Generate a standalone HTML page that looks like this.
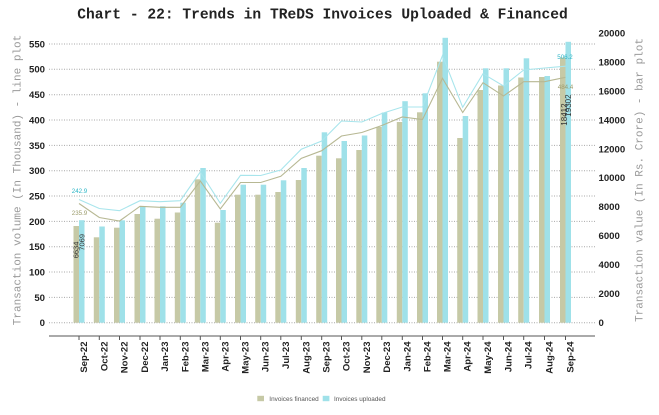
<!DOCTYPE html>
<html><head><meta charset="utf-8"><style>
html,body{margin:0;padding:0;background:#fff;}
svg{display:block;}
</style></head><body>
<svg width="659" height="415" viewBox="0 0 659 415" xmlns="http://www.w3.org/2000/svg">
<rect width="659" height="415" fill="#fff"/>
<text x="322.5" y="18.5" text-anchor="middle" font-family="Liberation Mono, monospace" font-weight="bold" font-size="14.6" fill="#222">Chart - 22: Trends in TReDS Invoices Uploaded &amp; Financed</text>

<g stroke="#a8a8a8" stroke-width="1" stroke-dasharray="1,1.5">
<line x1="49" y1="44" x2="595" y2="44"/>
<line x1="49" y1="69.3" x2="595" y2="69.3"/>
<line x1="49" y1="94.7" x2="595" y2="94.7"/>
<line x1="49" y1="120" x2="595" y2="120"/>
<line x1="49" y1="145.4" x2="595" y2="145.4"/>
<line x1="49" y1="170.7" x2="595" y2="170.7"/>
<line x1="49" y1="196" x2="595" y2="196"/>
<line x1="49" y1="221.4" x2="595" y2="221.4"/>
<line x1="49" y1="246.7" x2="595" y2="246.7"/>
<line x1="49" y1="272" x2="595" y2="272"/>
<line x1="49" y1="297.4" x2="595" y2="297.4"/>
<line x1="49" y1="322.7" x2="595" y2="322.7"/>
</g>

<g font-family="Liberation Sans, Arial, sans-serif" font-weight="bold" font-size="9.6" fill="#222" text-anchor="end">
<text x="45" y="47.4">550</text>
<text x="45" y="72.7">500</text>
<text x="45" y="98.1">450</text>
<text x="45" y="123.4">400</text>
<text x="45" y="148.8">350</text>
<text x="45" y="174.1">300</text>
<text x="45" y="199.4">250</text>
<text x="45" y="224.8">200</text>
<text x="45" y="250.1">150</text>
<text x="45" y="275.4">100</text>
<text x="45" y="300.8">50</text>
<text x="45" y="326.1">0</text>
</g>
<g font-family="Liberation Sans, Arial, sans-serif" font-weight="bold" font-size="9.6" fill="#222" text-anchor="start">
<text x="598.5" y="36.7">20000</text>
<text x="598.5" y="65.6">18000</text>
<text x="598.5" y="94.5">16000</text>
<text x="598.5" y="123.4">14000</text>
<text x="598.5" y="152.3">12000</text>
<text x="598.5" y="181.2">10000</text>
<text x="598.5" y="210.1">8000</text>
<text x="598.5" y="239">6000</text>
<text x="598.5" y="267.9">4000</text>
<text x="598.5" y="296.8">2000</text>
<text x="598.5" y="326.1">0</text>
</g>

<text transform="translate(20.5,180) rotate(-90)" text-anchor="middle" font-family="Liberation Mono, monospace" font-size="11" fill="#9a9a9a">Transaction volume (In Thousand) - line plot</text>
<text transform="translate(642.5,180) rotate(-90)" text-anchor="middle" font-family="Liberation Mono, monospace" font-size="11" fill="#9a9a9a">Transaction value (In Rs. Crore) - bar plot</text>

<!-- bars financed -->
<g fill="#c6c9a6">
<rect x="73.5" y="226" width="5.5" height="96.7"/>
<rect x="93.8" y="237.3" width="5.5" height="85.4"/>
<rect x="114" y="227.7" width="5.5" height="95"/>
<rect x="134.5" y="214" width="5.5" height="108.7"/>
<rect x="154.5" y="218.7" width="5.5" height="104"/>
<rect x="174.8" y="212.5" width="5.5" height="110.2"/>
<rect x="194.8" y="179.3" width="5.5" height="143.4"/>
<rect x="214.8" y="222.7" width="5.5" height="100"/>
<rect x="235" y="194.7" width="5.5" height="128"/>
<rect x="255.2" y="194.7" width="5.5" height="128"/>
<rect x="275.3" y="192" width="5.5" height="130.7"/>
<rect x="295.8" y="180" width="5.5" height="142.7"/>
<rect x="316.2" y="155.7" width="5.5" height="167"/>
<rect x="336" y="158.3" width="5.5" height="164.4"/>
<rect x="356.3" y="150" width="5.5" height="172.7"/>
<rect x="376.3" y="127" width="5.5" height="195.7"/>
<rect x="396.8" y="122" width="5.5" height="200.7"/>
<rect x="417" y="112.3" width="5.5" height="210.4"/>
<rect x="437" y="61.7" width="5.5" height="261"/>
<rect x="457.2" y="138" width="5.5" height="184.7"/>
<rect x="477.5" y="90" width="5.5" height="232.7"/>
<rect x="498" y="85.5" width="5.5" height="237.2"/>
<rect x="518.2" y="77.5" width="5.5" height="245.2"/>
<rect x="539" y="77" width="5.5" height="245.7"/>
<rect x="560" y="57.5" width="5.5" height="265.2"/>
</g>
<!-- bars uploaded -->
<g fill="#9fe1e9">
<rect x="79" y="220.2" width="5.5" height="102.5"/>
<rect x="99.3" y="226.5" width="5.5" height="96.2"/>
<rect x="119.5" y="220.3" width="5.5" height="102.4"/>
<rect x="140" y="206" width="5.5" height="116.7"/>
<rect x="160" y="206.3" width="5.5" height="116.4"/>
<rect x="180.3" y="202.7" width="5.5" height="120"/>
<rect x="200.3" y="168" width="5.5" height="154.7"/>
<rect x="220.3" y="210" width="5.5" height="112.7"/>
<rect x="240.5" y="184.7" width="5.5" height="138"/>
<rect x="260.7" y="184.7" width="5.5" height="138"/>
<rect x="280.8" y="180.3" width="5.5" height="142.4"/>
<rect x="301.3" y="168" width="5.5" height="154.7"/>
<rect x="321.7" y="132.3" width="5.5" height="190.4"/>
<rect x="341.5" y="141" width="5.5" height="181.7"/>
<rect x="361.8" y="135.5" width="5.5" height="187.2"/>
<rect x="381.8" y="112.5" width="5.5" height="210.2"/>
<rect x="402.3" y="101.2" width="5.5" height="221.5"/>
<rect x="422.5" y="93.3" width="5.5" height="229.4"/>
<rect x="442.5" y="37.8" width="5.5" height="284.9"/>
<rect x="462.7" y="116" width="5.5" height="206.7"/>
<rect x="483" y="68.3" width="5.5" height="254.4"/>
<rect x="503.5" y="68.3" width="5.5" height="254.4"/>
<rect x="523.7" y="58.3" width="5.5" height="264.4"/>
<rect x="544.5" y="76" width="5.5" height="246.7"/>
<rect x="565.5" y="41.8" width="5.5" height="280.9"/>
</g>

<!-- lines -->
<polyline fill="none" stroke="#b7b893" stroke-width="1.1" points="79,203.5 99.3,217.5 119.5,221 140,206.3 160,207.3 180.3,207.3 200.3,181 220.3,209 240.5,182.5 260.7,182.5 280.8,176.3 301.3,158.3 321.7,150.7 341.5,136 361.8,132.5 381.8,125.5 402.3,117 422.5,119.5 442.5,78.3 462.7,112.5 483,82.7 503.5,96 523.7,81.7 544.5,81.7 565.5,77.3"/>
<polyline fill="none" stroke="#a8e5ec" stroke-width="1.1" points="79,199.5 99.3,208.5 119.5,210.7 140,200.7 160,201.7 180.3,200.7 200.3,172 220.3,203.3 240.5,175.3 260.7,175.5 280.8,170 301.3,149.2 321.7,141 341.5,121 361.8,122 381.8,113.5 402.3,107 422.5,107 442.5,55.5 462.7,107.3 483,73.7 503.5,86 523.7,70 544.5,68 565.5,66.2"/>

<!-- data labels -->
<g font-family="Liberation Sans, Arial, sans-serif" font-size="6.2" text-anchor="middle">
<text x="79.5" y="192.8" fill="#2bb5c6">242.9</text>
<text x="79.5" y="214.8" fill="#9c9c6c">235.9</text>
<text x="565" y="58.8" fill="#2bb5c6">506.2</text>
<text x="565.5" y="88.8" fill="#9c9c6c">484.4</text>
</g>
<g font-family="Liberation Sans, Arial, sans-serif" font-size="7.5" fill="#333">
<text transform="translate(78.4,258.3) rotate(-90)">6634</text>
<text transform="translate(84.7,250.7) rotate(-90)">7069</text>
<text font-size="8" transform="translate(566.9,125.7) rotate(-90)">18412</text>
<text font-size="8" transform="translate(571.2,116.7) rotate(-90)">19302</text>
</g>

<!-- x axis -->
<line x1="49" y1="336" x2="595" y2="336" stroke="#555" stroke-width="1"/>
<g stroke="#555" stroke-width="1">
<line x1="79" y1="336" x2="79" y2="340"/><line x1="99.3" y1="336" x2="99.3" y2="340"/><line x1="119.5" y1="336" x2="119.5" y2="340"/><line x1="140" y1="336" x2="140" y2="340"/><line x1="160" y1="336" x2="160" y2="340"/><line x1="180.3" y1="336" x2="180.3" y2="340"/><line x1="200.3" y1="336" x2="200.3" y2="340"/><line x1="220.3" y1="336" x2="220.3" y2="340"/><line x1="240.5" y1="336" x2="240.5" y2="340"/><line x1="260.7" y1="336" x2="260.7" y2="340"/><line x1="280.8" y1="336" x2="280.8" y2="340"/><line x1="301.3" y1="336" x2="301.3" y2="340"/><line x1="321.7" y1="336" x2="321.7" y2="340"/><line x1="341.5" y1="336" x2="341.5" y2="340"/><line x1="361.8" y1="336" x2="361.8" y2="340"/><line x1="381.8" y1="336" x2="381.8" y2="340"/><line x1="402.3" y1="336" x2="402.3" y2="340"/><line x1="422.5" y1="336" x2="422.5" y2="340"/><line x1="442.5" y1="336" x2="442.5" y2="340"/><line x1="462.7" y1="336" x2="462.7" y2="340"/><line x1="483" y1="336" x2="483" y2="340"/><line x1="503.5" y1="336" x2="503.5" y2="340"/><line x1="523.7" y1="336" x2="523.7" y2="340"/><line x1="544.5" y1="336" x2="544.5" y2="340"/><line x1="565.5" y1="336" x2="565.5" y2="340"/>
</g>
<g font-family="Liberation Sans, Arial, sans-serif" font-weight="bold" font-size="9.5" fill="#222" text-anchor="end">
<text transform="translate(87,341.5) rotate(-90)">Sep-22</text>
<text transform="translate(107.3,341.5) rotate(-90)">Oct-22</text>
<text transform="translate(127.5,341.5) rotate(-90)">Nov-22</text>
<text transform="translate(148,341.5) rotate(-90)">Dec-22</text>
<text transform="translate(168,341.5) rotate(-90)">Jan-23</text>
<text transform="translate(188.3,341.5) rotate(-90)">Feb-23</text>
<text transform="translate(208.3,341.5) rotate(-90)">Mar-23</text>
<text transform="translate(228.3,341.5) rotate(-90)">Apr-23</text>
<text transform="translate(248.5,341.5) rotate(-90)">May-23</text>
<text transform="translate(268.7,341.5) rotate(-90)">Jun-23</text>
<text transform="translate(288.8,341.5) rotate(-90)">Jul-23</text>
<text transform="translate(309.3,341.5) rotate(-90)">Aug-23</text>
<text transform="translate(329.7,341.5) rotate(-90)">Sep-23</text>
<text transform="translate(349.5,341.5) rotate(-90)">Oct-23</text>
<text transform="translate(369.8,341.5) rotate(-90)">Nov-23</text>
<text transform="translate(389.8,341.5) rotate(-90)">Dec-23</text>
<text transform="translate(410.3,341.5) rotate(-90)">Jan-24</text>
<text transform="translate(430.5,341.5) rotate(-90)">Feb-24</text>
<text transform="translate(450.5,341.5) rotate(-90)">Mar-24</text>
<text transform="translate(470.7,341.5) rotate(-90)">Apr-24</text>
<text transform="translate(491,341.5) rotate(-90)">May-24</text>
<text transform="translate(511.5,341.5) rotate(-90)">Jun-24</text>
<text transform="translate(531.7,341.5) rotate(-90)">Jul-24</text>
<text transform="translate(552.5,341.5) rotate(-90)">Aug-24</text>
<text transform="translate(573.5,341.5) rotate(-90)">Sep-24</text>
</g>

<!-- legend -->
<rect x="257.3" y="395.8" width="6.7" height="5.4" fill="#c6c9a6"/>
<text x="269.3" y="400.8" font-family="Liberation Sans, Arial, sans-serif" font-size="6.4" fill="#555">Invoices financed</text>
<rect x="322.7" y="395.8" width="6.7" height="5.4" fill="#9fe1e9"/>
<text x="334" y="400.8" font-family="Liberation Sans, Arial, sans-serif" font-size="6.4" fill="#555">Invoices uploaded</text>
</svg>
</body></html>
